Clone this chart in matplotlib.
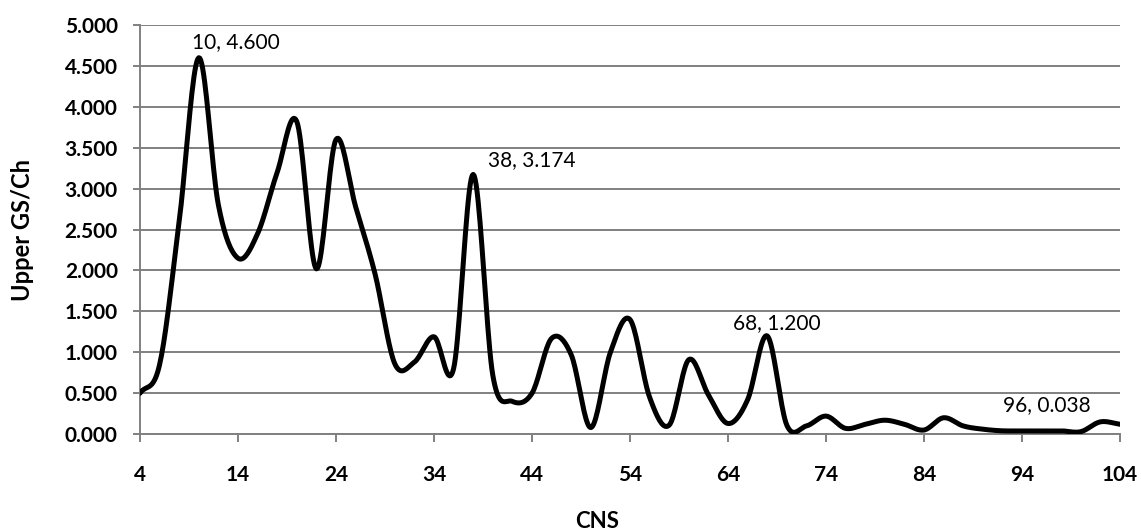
import numpy as np
import matplotlib
matplotlib.use("Agg")
import matplotlib.pyplot as plt
from matplotlib.ticker import FormatStrFormatter

plt.rcParams['font.family'] = ['Lato', 'DejaVu Sans']

# CNS values (even steps) and Upper GS/Ch
cns = [4, 6, 8, 10, 12, 14, 16, 18, 20, 22, 24, 26, 28, 30, 32, 34, 36, 38,
       40, 42, 44, 46, 48, 50, 52, 54, 56, 58, 60, 62, 64, 66, 68, 70, 72,
       74, 76, 78, 80, 82, 84, 86, 88, 90, 92, 94, 96, 98, 100, 102, 104]
gs_ch = [0.50, 0.85, 2.60, 4.600, 2.80, 2.15, 2.45, 3.20, 3.82, 2.02, 3.60,
         2.78, 1.95, 0.86, 0.88, 1.19, 0.80, 3.174, 0.72, 0.40, 0.50, 1.17,
         0.97, 0.08, 1.00, 1.40, 0.45, 0.11, 0.91, 0.48, 0.13, 0.42, 1.200,
         0.11, 0.10, 0.22, 0.07, 0.12, 0.17, 0.12, 0.05, 0.20, 0.10, 0.06,
         0.04, 0.04, 0.038, 0.04, 0.03, 0.15, 0.12]
labels = [(10, 4.600), (38, 3.174), (68, 1.200), (96, 0.038)]
label_pos = [(9.3, 4.79), (39.5, 3.35), (64.5, 1.36), (92.1, 0.35)]


def smooth(x, y, n=20):
    # Catmull-Rom spline like Excel's smoothed line
    x = np.asarray(x, float)
    y = np.asarray(y, float)
    px = np.concatenate([[2 * x[0] - x[1]], x, [2 * x[-1] - x[-2]]])
    py = np.concatenate([[2 * y[0] - y[1]], y, [2 * y[-1] - y[-2]]])
    xs, ys = [], []
    t = np.linspace(0, 1, n, endpoint=False)
    for i in range(1, len(px) - 2):
        for p, out in ((px, xs), (py, ys)):
            p0, p1, p2, p3 = p[i - 1], p[i], p[i + 1], p[i + 2]
            out.extend(0.5 * (2 * p1 + (-p0 + p2) * t
                              + (2 * p0 - 5 * p1 + 4 * p2 - p3) * t ** 2
                              + (-p0 + 3 * p1 - 3 * p2 + p3) * t ** 3))
    xs.append(x[-1])
    ys.append(y[-1])
    return np.array(xs), np.array(ys)


fig = plt.figure(figsize=(11.41, 5.32), dpi=100)
ax = fig.add_axes([0.1227, 0.184, 0.8589, 0.769])

sx, sy = smooth(cns, gs_ch)
ax.plot(sx, sy, color='black', lw=3.6, solid_capstyle='round', zorder=3)

for (lx, ly), (tx, ty) in zip(labels, label_pos):
    ax.text(tx, ty, f"{lx}, {ly:.3f}", fontsize=15, va='center', ha='left')

ax.set_xlim(4, 104)
ax.set_ylim(0, 5)
ax.set_xticks(np.arange(4, 105, 10))
ax.set_yticks(np.arange(0, 5.01, 0.5))
ax.yaxis.set_major_formatter(FormatStrFormatter('%.3f'))
ax.grid(axis='y', color='#808080', lw=1.4)
ax.set_axisbelow(True)
for s in ['top', 'right']:
    ax.spines[s].set_visible(False)
for s in ['left', 'bottom']:
    ax.spines[s].set_color('#808080')
    ax.spines[s].set_linewidth(1.4)
ax.tick_params(axis='both', colors='#808080', width=1.4, length=6,
               labelsize=15, labelcolor='black')
ax.tick_params(axis='x', pad=16)
ax.tick_params(axis='y', pad=11, length=5)
for lab in ax.get_xticklabels() + ax.get_yticklabels():
    lab.set_fontweight('bold')

ax.set_xlabel('CNS', fontsize=16, fontweight='bold', va='center')
ax.set_ylabel('Upper GS/Ch', fontsize=17, fontweight='bold', va='center')
ax.xaxis.set_label_coords(0.466, -0.213)
ax.yaxis.set_label_coords(-0.120, 0.5)

fig.savefig('out.png', dpi=100)
